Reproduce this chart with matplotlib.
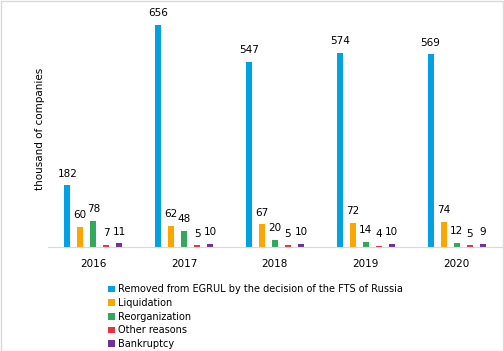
import matplotlib.pyplot as plt
import numpy as np

years = ["2016", "2017", "2018", "2019", "2020"]
series = ["Removed from EGRUL by the decision of the FTS of Russia",
          "Liquidation", "Reorganization", "Other reasons", "Bankruptcy"]
removed = [182, 656, 547, 574, 569]
liquidation = [60, 62, 67, 72, 74]
reorganization = [78, 48, 20, 14, 12]
other = [7, 5, 5, 4, 5]
bankruptcy = [11, 10, 10, 10, 9]
colors = ["#00A2E3", "#FFA500", "#2EAA5A", "#E8333A", "#7030A0"]

values = [removed, liquidation, reorganization, other, bankruptcy]

fig = plt.figure(figsize=(5.04, 3.51), dpi=100)
ax = fig.add_axes([0.095, 0.2963, 0.901, 0.675])

x = np.arange(len(years))
pitch = 0.143
width = 0.066
for i, (name, vals, c) in enumerate(zip(series, values, colors)):
    pos = x + (i - 2) * pitch
    ax.bar(pos, vals, width, color=c, label=name)
    for p, v in zip(pos, vals):
        ax.text(p, v + 20, str(v), ha="center", va="bottom", fontsize=7.5)

ax.set_xlim(-0.5, 4.5)
ax.set_ylim(0, 700)
ax.set_yticks([])
ax.set_xticks(x)
ax.set_xticklabels(years, fontsize=7.5)
ax.tick_params(axis="x", length=0, pad=9)
for s in ["top", "right", "left"]:
    ax.spines[s].set_visible(False)
ax.spines["bottom"].set_color("#d9d9d9")
ax.set_ylabel("thousand of companies", fontsize=7.5, labelpad=2)

fig.legend(loc="upper left", bbox_to_anchor=(0.214, 0.19), frameon=False,
           fontsize=7, handlelength=0.7, handleheight=0.7, handletextpad=0.35,
           labelspacing=0.38, borderpad=0, borderaxespad=0)

fig.patches.append(plt.Rectangle((0.001, 0.001), 0.997, 0.997, transform=fig.transFigure,
                                 fill=False, edgecolor="#d9d9d9", linewidth=1))

plt.savefig("out.png", dpi=100)
